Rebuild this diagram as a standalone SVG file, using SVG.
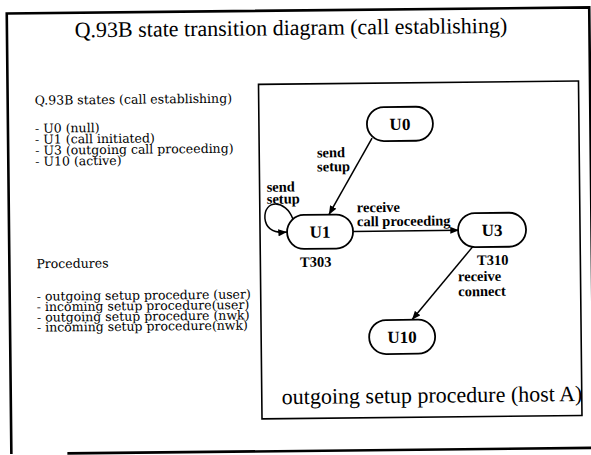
<svg xmlns="http://www.w3.org/2000/svg" width="591" height="455" viewBox="0 0 591 455">
<style>
.frame{fill:none;stroke:#000;stroke-width:2.6}
.box{fill:none;stroke:#000;stroke-width:1.6}
.node rect{fill:#fff;stroke:#000;stroke-width:1.8}
.node text{font-family:"Liberation Serif",serif;font-weight:bold;font-size:17px;text-anchor:middle}
.edge{fill:none;stroke:#000;stroke-width:1.5;marker-end:url(#arr)}
.title{font-family:"Liberation Serif",serif;font-size:22px}
.small{font-family:"DejaVu Serif",serif;font-size:12.5px}
.lbl{font-family:"Liberation Serif",serif;font-weight:bold;font-size:14.5px}
</style>
<defs>
<marker id="arr" viewBox="0 0 10 8" refX="10" refY="4" markerWidth="9" markerHeight="7" markerUnits="userSpaceOnUse" orient="auto">
<path d="M0,0 L10,4 L0,8 z" fill="#000"/>
</marker>
</defs>
<rect width="591" height="455" fill="#fff"/>
<g transform="rotate(-0.6 295 227)">
<g id="frame">
<path class="frame" d="M9,451 V10.5 H591.5 V451"/>
<path class="frame" d="M65,451 H593"/>
</g>
<text class="title" x="293" y="35" text-anchor="middle">Q.93B state transition diagram (call establishing)</text>
<g id="states-list" class="small">
<text x="36" y="102">Q.93B states (call establishing)</text>
<text x="36" y="130">- U0 (null)</text>
<text x="36" y="141">- U1 (call initiated)</text>
<text x="36" y="152">- U3 (outgoing call proceeding)</text>
<text x="36" y="163">- U10 (active)</text>
</g>
<g id="procedures-list" class="small">
<text x="36" y="265.5">Procedures</text>
<text x="36" y="298">- outgoing setup procedure (user)</text>
<text x="36" y="308.5">- incoming setup procedure(user)</text>
<text x="36" y="319">- outgoing setup procedure (nwk)</text>
<text x="36" y="329">- incoming setup procedure(nwk)</text>
</g>
<g id="host-a-box">
<rect class="box" x="260" y="84" width="320" height="334.5"/>
<text class="title" x="280" y="404" font-size="21.5">outgoing setup procedure (host A)</text>
</g>
<g id="connectors">
<path class="edge" d="M373,139 L329,215"/>
<path class="edge" d="M293,219 C286,199 264,199 265,218 C266,229 274,233 287,232"/>
<path class="edge" d="M353,232 L459,232"/>
<path class="edge" d="M473,248 L411,321"/>
<g class="lbl">
<text x="317.7" y="157.7">send</text>
<text x="317.7" y="171.7">setup</text>
<text x="267" y="191.5">send</text>
<text x="267" y="203.5">setup</text>
<text x="357" y="213">receive</text>
<text x="357" y="227">call proceeding</text>
<text x="457.5" y="283">receive</text>
<text x="457.5" y="298">connect</text>
</g>
</g>
<g id="U0" class="node">
<rect x="368" y="108" width="66" height="34" rx="17"/>
<text x="401" y="131">U0</text>
</g>
<g id="U1" class="node">
<rect x="287" y="215" width="66" height="34" rx="17"/>
<text x="320" y="238">U1</text>
<text class="lbl" x="299.6" y="267" style="text-anchor:start;font-size:14.5px">T303</text>
</g>
<g id="U3" class="node">
<rect x="458" y="215" width="68" height="34" rx="17"/>
<text x="492" y="238">U3</text>
<text class="lbl" x="476.6" y="267" style="text-anchor:start;font-size:14.5px">T310</text>
</g>
<g id="U10" class="node">
<rect x="368" y="321" width="66" height="34" rx="17"/>
<text x="401" y="344">U10</text>
</g>
</g>
</svg>
